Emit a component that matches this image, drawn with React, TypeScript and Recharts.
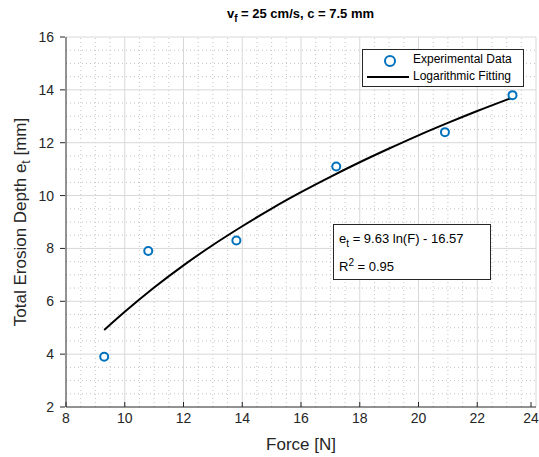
import { ComposedChart, Line, Scatter, XAxis, YAxis, ReferenceLine, Label } from 'recharts';

// measured points
const forceN = [9.3, 10.8, 13.8, 17.2, 20.9, 23.2];
const erosionMm = [3.9, 7.9, 8.3, 11.1, 12.4, 13.8];

// fitted curve
const fitForce = [9.3, 10, 11, 12, 13, 14, 15, 16, 17, 18, 19, 20, 21, 22, 23.2];
const fitDepth = [4.91, 5.6, 6.52, 7.36, 8.13, 8.84, 9.51, 10.13, 10.71, 11.26, 11.78, 12.28, 12.75, 13.2, 13.71];

const xTicks = [8, 10, 12, 14, 16, 18, 20, 22, 24];
const yTicks = [2, 4, 6, 8, 10, 12, 14, 16];
const xMinor = [8.5, 9, 9.5, 10.5, 11, 11.5, 12.5, 13, 13.5, 14.5, 15, 15.5, 16.5, 17, 17.5, 18.5, 19, 19.5, 20.5, 21, 21.5, 22.5, 23, 23.5];
const yMinor = [2.5, 3, 3.5, 4.5, 5, 5.5, 6.5, 7, 7.5, 8.5, 9, 9.5, 10.5, 11, 11.5, 12.5, 13, 13.5, 14.5, 15, 15.5];

const points = forceN.map((f, i) => ({ x: f, y: erosionMm[i] }));
const fit = fitForce.map((f, i) => ({ x: f, y: fitDepth[i] }));

const font = '"Liberation Sans", Arial, sans-serif';
const blue = '#0072BD';
const axisColor = '#262626';

const XTick = (p: any) => (
  <g>
    <line x1={p.x} x2={p.x} y1={p.y - 8} y2={p.y - 13} stroke={axisColor} />
    <text x={p.x} y={p.y + 8} textAnchor="middle" fontSize={14} fill={axisColor} fontFamily={font}>
      {p.payload.value}
    </text>
  </g>
);

const YTick = (p: any) => (
  <g>
    <line x1={p.x + 2} x2={p.x + 7} y1={p.y} y2={p.y} stroke={axisColor} />
    <text x={p.x - 4} y={p.y + 5} textAnchor="end" fontSize={14} fill={axisColor} fontFamily={font}>
      {p.payload.value}
    </text>
  </g>
);

const App = () => {
  return (
    <div style={{ position: 'absolute', left: 0, top: 0, width: 539, height: 457, background: '#fff', fontFamily: font }}>
      <div style={{ position: 'absolute', left: 0, width: 539, top: 6, textAlign: 'center', fontSize: 13, fontWeight: 'bold', color: '#000', paddingLeft: 62, boxSizing: 'border-box' }}>
        v<sub style={{ fontSize: 10 }}>f</sub> = 25 cm/s, c = 7.5 mm
      </div>
      <ComposedChart width={539} height={457} margin={{ top: 37, right: 3, bottom: 0, left: 0 }}>
        {xMinor.map((v) => (
          <ReferenceLine key={'xm' + v} x={v} stroke="#c4c4c4" strokeDasharray="1 3" />
        ))}
        {yMinor.map((v) => (
          <ReferenceLine key={'ym' + v} y={v} stroke="#c4c4c4" strokeDasharray="1 3" />
        ))}
        {xTicks.slice(1).map((v) => (
          <ReferenceLine key={'x' + v} x={v} stroke="#d8d8d8" />
        ))}
        {yTicks.slice(1).map((v) => (
          <ReferenceLine key={'y' + v} y={v} stroke="#d8d8d8" />
        ))}
        <XAxis
          type="number"
          dataKey="x"
          domain={[8, 24]}
          ticks={xTicks}
          allowDataOverflow
          height={50}
          stroke={axisColor}
          tickLine={false}
          tickSize={6}
          tick={<XTick />}
        >
          <Label value="Force [N]" position="insideBottom" offset={7} style={{ fontSize: 17, fill: axisColor, fontFamily: font }} />
        </XAxis>
        <YAxis
          type="number"
          dataKey="y"
          domain={[2, 16]}
          ticks={yTicks}
          allowDataOverflow
          width={66}
          stroke={axisColor}
          tickLine={false}
          tickSize={6}
          tick={<YTick />}
        >
          <Label
            content={() => (
              <text x={26} y={222} transform="rotate(-90 26 222)" textAnchor="middle" style={{ fontSize: 17, fill: axisColor, fontFamily: font }}>
                Total Erosion Depth e<tspan dy={4} fontSize={12}>t</tspan><tspan dy={-4}> [mm]</tspan>
              </text>
            )}
          />
        </YAxis>
        <Line data={fit} dataKey="y" type="monotone" stroke="#000" strokeWidth={2} dot={false} isAnimationActive={false} />
        <Scatter
          data={points}
          dataKey="y"
          isAnimationActive={false}
          shape={(p: any) => <circle cx={p.cx} cy={p.cy} r={4} fill="#fff" stroke={blue} strokeWidth={2} />}
        />
      </ComposedChart>
      <div style={{ position: 'absolute', left: 362, top: 49, width: 162, height: 38, border: '1px solid #262626', background: '#fff', boxSizing: 'border-box', fontSize: 12, color: '#000' }}>
        <div style={{ position: 'absolute', left: 21, top: 5, width: 8, height: 8, borderRadius: '50%', border: `2px solid ${blue}` }} />
        <div style={{ position: 'absolute', left: 50, top: 2 }}>Experimental Data</div>
        <div style={{ position: 'absolute', left: 4, top: 26, width: 42, height: 2, background: '#000' }} />
        <div style={{ position: 'absolute', left: 50, top: 19 }}>Logarithmic Fitting</div>
      </div>
      <div style={{ position: 'absolute', left: 333, top: 224, width: 158, height: 56, border: '1px solid #262626', background: '#fff', boxSizing: 'border-box', fontSize: 13, color: '#000' }}>
        <div style={{ position: 'absolute', left: 5, top: 6 }}>
          e<sub style={{ fontSize: 10 }}>t</sub> = 9.63 ln(F) - 16.57
        </div>
        <div style={{ position: 'absolute', left: 5, top: 32 }}>
          R<sup style={{ fontSize: 10 }}>2</sup> = 0.95
        </div>
      </div>
    </div>
  );
};

export default App;
